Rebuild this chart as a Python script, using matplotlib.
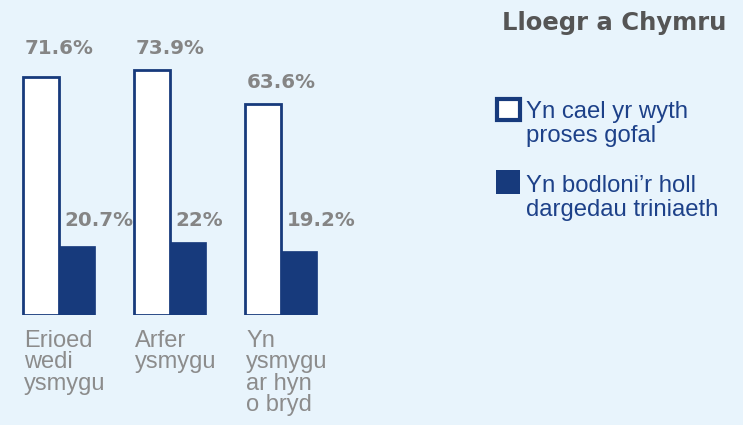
import matplotlib
matplotlib.use("Agg")
import matplotlib.pyplot as plt
from matplotlib.patches import Rectangle

# ---- data ----
categories = ["Erioed\nwedi\nysmygu", "Arfer\nysmygu", "Yn\nysmygu\nar hyn\no bryd"]
care_processes = [71.6, 73.9, 63.6]      # Yn cael yr wyth proses gofal
treatment_targets = [20.7, 22.0, 19.2]   # Yn bodloni'r holl dargedau triniaeth
care_labels = ["71.6%", "73.9%", "63.6%"]
target_labels = ["20.7%", "22%", "19.2%"]
legend_labels = ["Yn cael yr wyth\nproses gofal", "Yn bodloni\u2019r holl\ndargedau triniaeth"]
title = "Lloegr a Chymru"

# ---- style ----
W, H = 743, 425
BG = "#e8f4fc"
DARK = "#173a7c"
LEG_TXT = "#1d4189"
GREY = "#858585"
TITLE_GREY = "#555555"

fig = plt.figure(figsize=(W / 100, H / 100), dpi=100, facecolor=BG)

def fx(px):
    return px / W

def fy(py):
    return 1 - py / H

# axes: baseline at y=315 px, 111 px per group, 3.32 px per %
ax = fig.add_axes([0, fy(315), fx(333), 315 / H])
ax.set_facecolor("none")
ax.set_xlim(-59 / 111, 274 / 111)
ax.set_ylim(0, 315 / 3.32)
ax.axis("off")

x = list(range(len(categories)))
w = 0.325
ax.bar([i - w / 2 for i in x], care_processes, width=w, color="white",
       edgecolor=DARK, linewidth=2.0)
ax.bar([i + w / 2 for i in x], treatment_targets, width=w, color=DARK,
       edgecolor=DARK, linewidth=0.5)

val_font = dict(family="DejaVu Sans", weight="heavy", fontsize=14.3, color=GREY)
top_white = max(care_processes[:2])
for i, (v, lab) in enumerate(zip(care_processes, care_labels)):
    y = (top_white if i < 2 else v) + 6.5
    ax.text(i, y, lab, ha="center", va="center", **val_font)
dy = max(treatment_targets) + 6.6
for i, lab in enumerate(target_labels):
    ax.annotate(lab, (i, dy), xytext=(4, 0), textcoords="offset points",
                ha="left", va="center", **val_font)

for i, cat in enumerate(categories):
    ax.annotate(cat, (i - w, 0), xytext=(1, -11), textcoords="offset points",
                ha="left", va="top", fontsize=17, color="#8c8c8c",
                family="Liberation Sans", linespacing=0.95)

# title
fig.text(fx(726), fy(11), title, ha="right", va="top", fontsize=17.5,
         weight="heavy", family="DejaVu Sans", color=TITLE_GREY)

# legend
sq = 23
fig.patches.append(Rectangle((fx(497.5), fy(97.5 + sq)), fx(sq - 1), sq / H - 2 / H,
                             transform=fig.transFigure, facecolor="white",
                             edgecolor=DARK, linewidth=3))
fig.patches.append(Rectangle((fx(496), fy(171 + sq)), fx(sq + 1), (sq + 1) / H,
                             transform=fig.transFigure, facecolor=DARK,
                             edgecolor="none"))
fig.text(fx(526), fy(101), legend_labels[0], ha="left", va="top", fontsize=17.2,
         family="Liberation Sans", color=LEG_TXT, linespacing=1.1)
fig.text(fx(526), fy(175), legend_labels[1], ha="left", va="top", fontsize=17.2,
         family="Liberation Sans", color=LEG_TXT, linespacing=1.1)

fig.savefig("out.png", dpi=100, facecolor=BG)
